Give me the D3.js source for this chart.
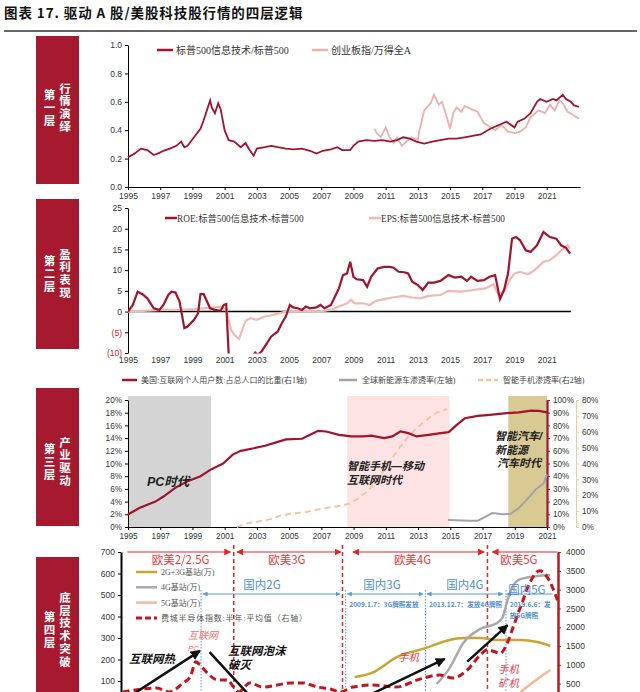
<!DOCTYPE html>
<html><head><meta charset="utf-8">
<script src="https://cdn.jsdelivr.net/npm/d3@7"></script>
<style>body{margin:0;background:#fff}svg{display:block}</style>
</head><body><svg id="c" width="640" height="692"></svg>
<script>
// ---------------- DATA ----------------
const title = "图表 17. 驱动 A 股/美股科技股行情的四层逻辑";
const layerNames = [["第一层","行情演绎"],["第二层","盈利表现"],["第三层","产业驱动"],["第四层","底层技术突破"]];
const yearTicks = [1995,1997,1999,2001,2003,2005,2007,2009,2011,2013,2015,2017,2019,2021];

// Panel 1: relative strength
const p1Labels = ["标普500信息技术/标普500","创业板指/万得全A"];
const p1Ticks = [0,0.2,0.4,0.6,0.8,1.0];
const p1Tech = [[1995.0,0.21],[1995.4,0.235],[1995.8,0.27],[1996.2,0.26],[1996.6,0.225],[1996.95,0.24],[1997.2,0.255],[1997.6,0.27],[1998.0,0.29],[1998.3,0.32],[1998.5,0.28],[1998.7,0.29],[1999.1,0.35],[1999.5,0.41],[1999.7,0.47],[2000.1,0.61],[2000.2,0.56],[2000.4,0.52],[2000.6,0.59],[2000.75,0.55],[2001.0,0.40],[2001.25,0.33],[2001.6,0.32],[2002.0,0.28],[2002.3,0.31],[2002.5,0.27],[2002.8,0.22],[2003.0,0.27],[2003.5,0.28],[2003.9,0.29],[2004.3,0.28],[2004.8,0.27],[2005.3,0.265],[2005.8,0.27],[2006.3,0.255],[2006.7,0.235],[2007.1,0.255],[2007.6,0.265],[2008.0,0.28],[2008.3,0.26],[2008.8,0.26],[2009.0,0.29],[2009.3,0.32],[2009.8,0.33],[2010.3,0.325],[2010.8,0.33],[2011.3,0.32],[2011.7,0.33],[2012.1,0.35],[2012.5,0.34],[2012.9,0.32],[2013.4,0.305],[2013.9,0.32],[2014.4,0.33],[2014.9,0.34],[2015.4,0.34],[2015.9,0.35],[2016.4,0.36],[2016.9,0.37],[2017.5,0.41],[2018.0,0.435],[2018.5,0.46],[2019.0,0.42],[2019.2,0.46],[2019.6,0.48],[2020.0,0.52],[2020.4,0.60],[2020.6,0.62],[2021.0,0.60],[2021.4,0.62],[2021.6,0.61],[2022.0,0.65],[2022.2,0.62],[2022.5,0.60],[2022.7,0.575],[2023.0,0.565]];
const p1Chinext = [[2010.3,0.41],[2010.45,0.38],[2010.7,0.35],[2011.0,0.42],[2011.25,0.35],[2011.5,0.31],[2011.7,0.35],[2012.0,0.29],[2012.4,0.33],[2012.6,0.35],[2013.0,0.33],[2013.1,0.40],[2013.4,0.54],[2013.8,0.59],[2014.0,0.65],[2014.3,0.58],[2014.5,0.60],[2014.8,0.49],[2015.0,0.41],[2015.2,0.52],[2015.4,0.56],[2015.7,0.53],[2015.9,0.57],[2016.3,0.55],[2016.7,0.53],[2017.1,0.45],[2017.5,0.42],[2017.8,0.40],[2018.2,0.435],[2018.6,0.39],[2019.0,0.38],[2019.35,0.39],[2019.7,0.42],[2020.0,0.49],[2020.5,0.54],[2020.9,0.52],[2021.2,0.58],[2021.5,0.54],[2021.8,0.61],[2022.0,0.59],[2022.3,0.53],[2022.6,0.51],[2023.0,0.48]];

// Panel 2: earnings
const p2Labels = ["ROE:标普500信息技术-标普500","EPS:标普500信息技术-标普500"];
const p2Ticks = [-10,-5,0,5,10,15,20,25];
const p2Roe = [[1995.0,0],[1995.3,1.6],[1995.6,4.8],[1995.9,4.2],[1996.2,3.2],[1996.6,0.8],[1996.95,0.4],[1997.2,1.6],[1997.5,4.0],[1997.7,4.8],[1997.95,4.6],[1998.2,2.4],[1998.5,-4.0],[1998.7,-3.6],[1999.1,-2.0],[1999.35,-0.4],[1999.5,4.2],[1999.7,4.2],[2000.1,0.8],[2000.4,0.4],[2000.75,0.2],[2000.95,1.6],[2001.1,1.8],[2001.3,-14],[2002.0,-18],[2002.8,-10.5],[2002.9,-9.9],[2003.05,-10.5],[2003.3,-9.6],[2003.7,-7.2],[2003.9,-6.0],[2004.3,-4.8],[2004.55,-2.8],[2004.8,-1.2],[2005.05,1.6],[2005.25,1.0],[2005.55,0.8],[2005.8,0.4],[2006.05,1.2],[2006.3,0.8],[2006.7,1.0],[2006.95,1.6],[2007.2,0.8],[2007.6,1.6],[2007.85,3.6],[2008.1,5.6],[2008.35,8.8],[2008.6,9.2],[2008.8,12.0],[2009.0,8.4],[2009.2,7.8],[2009.6,7.6],[2009.85,6.0],[2010.1,8.4],[2010.5,10.4],[2010.9,10.8],[2011.25,10.8],[2011.5,10.6],[2011.8,9.6],[2012.15,9.5],[2012.4,9.2],[2012.65,7.2],[2013.0,6.4],[2013.3,5.2],[2013.65,7.0],[2014.0,7.0],[2014.4,7.4],[2014.9,8.8],[2015.3,8.2],[2015.7,8.4],[2016.05,7.4],[2016.3,8.4],[2016.7,7.4],[2017.1,7.6],[2017.45,8.4],[2017.8,8.8],[2018.1,3.0],[2018.35,5.2],[2018.6,9.2],[2018.85,17.6],[2019.1,18.0],[2019.35,17.2],[2019.7,14.8],[2020.0,14.4],[2020.4,16.0],[2020.8,19.2],[2021.2,18.0],[2021.6,17.6],[2021.9,16.0],[2022.2,15.4],[2022.45,14.0]];
const p2Eps = [[1995.0,0],[1997.2,0.4],[1998.2,0.4],[1999.2,0.6],[1999.7,0.8],[2000.75,1.2],[2001.1,0.4],[2001.4,-4.4],[2001.6,-5.6],[2001.9,-6.6],[2002.3,-2.2],[2002.6,-1.6],[2003.0,-2.0],[2003.5,-1.2],[2004.0,-0.8],[2004.8,0],[2005.8,0.2],[2006.8,0],[2007.6,0.4],[2008.1,1.2],[2008.6,2.0],[2008.85,2.8],[2009.1,2.0],[2009.6,2.0],[2010.0,1.6],[2010.4,2.6],[2010.9,3.0],[2011.4,3.4],[2012.1,3.8],[2012.65,3.4],[2013.15,3.2],[2013.65,3.8],[2014.4,4.0],[2014.9,5.0],[2015.7,4.8],[2016.45,5.2],[2017.2,5.6],[2017.7,6.6],[2018.0,4.0],[2018.35,4.8],[2018.7,7.6],[2019.0,9.2],[2019.35,9.6],[2019.85,9.0],[2020.25,10.0],[2020.8,12.0],[2021.2,12.4],[2021.6,13.6],[2021.9,14.8],[2022.3,16.0],[2022.45,15.2]];

// Panel 3: industry drivers
const p3Labels = ["美国:互联网个人用户数:占总人口的比重(右1轴)","全球新能源车渗透率(左轴)","智能手机渗透率(右2轴)"];
const p3LeftTicks = [0,0.02,0.04,0.06,0.08,0.10,0.12,0.14,0.16,0.18,0.20];
const p3R1Ticks = [0,0.1,0.2,0.3,0.4,0.5,0.6,0.7,0.8,0.9,1.0];
const p3R2Ticks = [0,0.1,0.2,0.3,0.4,0.5,0.6,0.7,0.8];
const p3Eras = [{from:1995,to:2000.15,name:["PC时代"]},{from:2008.6,to:2014.95,name:["智能手机—移动","互联网时代"]},{from:2018.6,to:2021,name:["智能汽车/","新能源","汽车时代"]}];
const p3Internet = [[1995.0,0.099],[1995.7,0.15],[1996.7,0.20],[1997.2,0.24],[1997.95,0.31],[1998.7,0.36],[1999.5,0.40],[2000.1,0.45],[2000.9,0.50],[2001.5,0.57],[2002.0,0.60],[2002.8,0.62],[2003.5,0.64],[2004.3,0.67],[2004.8,0.69],[2005.8,0.695],[2006.3,0.726],[2006.8,0.757],[2007.3,0.752],[2008.1,0.726],[2008.85,0.713],[2009.6,0.713],[2010.1,0.72],[2010.9,0.70],[2011.4,0.713],[2011.9,0.752],[2012.4,0.739],[2012.9,0.713],[2013.65,0.726],[2014.4,0.739],[2014.9,0.747],[2015.4,0.804],[2015.9,0.856],[2016.7,0.875],[2017.45,0.883],[2018.5,0.896],[2019.25,0.903],[2020.0,0.916],[2020.5,0.914],[2021.0,0.903]];
const p3Nev = [[2014.85,0.011],[2016.2,0.010],[2016.7,0.010],[2017.1,0.015],[2017.6,0.022],[2018.25,0.020],[2018.75,0.021],[2019.25,0.030],[2019.75,0.043],[2020.3,0.059],[2020.8,0.069],[2021.0,0.083]];
const p3Phone = [[2001.75,0],[2002.3,0.021],[2003.0,0.033],[2003.8,0.048],[2004.55,0.075],[2005.3,0.086],[2006.05,0.094],[2006.8,0.11],[2007.6,0.125],[2008.35,0.136],[2008.85,0.152],[2009.35,0.184],[2009.85,0.225],[2010.35,0.278],[2010.85,0.35],[2011.4,0.434],[2011.9,0.507],[2012.4,0.57],[2012.9,0.622],[2013.4,0.664],[2013.9,0.706],[2014.4,0.73],[2014.8,0.743]];

// Panel 4: technology
const p4Labels = ["2G+3G基站(万)","4G基站(万)","5G基站(万)","费城半导体指数:半年:平均值（右轴）"];
const p4LeftTicks = [100,200,300,400,500,600,700];
const p4RightTicks = [500,1000,1500,2000,2500,3000,3500,4000];
const p4Base23 = [[2009.5,118],[2010.65,140],[2012.15,212],[2013.9,253],[2015.4,291],[2016.25,300],[2017.3,300],[2018.35,291],[2019.8,291],[2020.85,281],[2021.65,263]];
const p4Base4 = [[2014.6,86],[2015.4,160],[2016.25,277],[2017.3,342],[2018.35,370],[2018.7,398],[2019.0,477],[2019.3,537],[2019.8,574],[2020.85,588],[2021.65,593]];
const p4Base5 = [[2019.8,48],[2020.6,95],[2021.65,151]];
const p4Sox = [[1995.1,280],[1996.4,360],[1997.2,385],[1998.0,280],[1998.85,520],[1999.3,680],[1999.65,1080],[1999.9,1000],[2000.35,785],[2001.0,600],[2001.6,600],[2002.0,410],[2002.3,280],[2003.0,520],[2003.8,410],[2004.7,465],[2005.5,520],[2006.3,520],[2007.2,410],[2008.0,360],[2008.6,280],[2009.4,410],[2010.65,465],[2012.1,410],[2013.4,600],[2014.8,730],[2015.6,650],[2016.5,865],[2017.3,1260],[2017.75,1400],[2018.55,1310],[2019.0,1600],[2019.35,2010],[2019.9,2650],[2020.4,3200],[2021.0,3500],[2021.45,3340],[2022.1,2720]];
const westGens = [{name:"欧美2/2.5G",from:1995.4,to:2001.8,mid:1998.7,heads:"end"},{name:"欧美3G",from:2002.2,to:2008.65,mid:2005.3,heads:"both"},{name:"欧美4G",from:2009.4,to:2017.55,mid:2013.1,heads:"both"},{name:"欧美5G",from:2018.05,to:2022.1,mid:2019.7,heads:"start"}];
const westLines = [2002.0,2008.75,2017.75];
const chinaGens = [{name:"国内2G",from:2000.1,to:2008.6,mid:2003.75,note:[]},{name:"国内3G",from:2009.05,to:2013.75,mid:2011.2,note:["2009.1.7：3G牌照发放"]},{name:"国内4G",from:2014.0,to:2018.7,mid:2016.35,note:["2013.12.7：发放4G牌照"]},{name:"国内5G",from:2018.95,to:2021.8,mid:2020.2,note:["2019.6.6：发","放5G牌照"]}];
const chinaLines = [1999.97,2008.95,2013.9,2018.9];
// trend arrows: [start year, start value] -> [end year, end value] (left axis units)
const trendArrows = [[[1995.2,12],[1999.9,240]],[[2000.5,234],[2003.5,-10]],[[2008.9,-20],[2015.1,203]],[[2016.5,190],[2019.0,360]]];

// ---------------- DRAW ----------------
const svg = d3.select("#c");
const NUM = "'Liberation Sans Narrow','Liberation Sans',Arial,sans-serif";
const CJK = "'Liberation Serif','Noto Sans CJK SC',serif";
const SANS = "'Noto Sans CJK SC',sans-serif";
const ANN = "'Liberation Sans','Noto Sans CJK SC',sans-serif";
const DARKRED = "#a0142c", BOX = "#a6192e";
const defs = svg.append("defs");
function marker(id, color, size){
  defs.append("marker").attr("id",id).attr("viewBox","0 0 10 10").attr("refX",9).attr("refY",5)
    .attr("markerWidth",size).attr("markerHeight",size).attr("markerUnits","userSpaceOnUse")
    .attr("orient","auto-start-reverse").append("path").attr("d","M0,0L10,5L0,10z").attr("fill",color);
}
marker("mRed","#e02626",7); marker("mBlue","#5b9bd5",5); marker("mBlack","#111",10);

// title
svg.append("text").attr("x",4).attr("y",18).attr("font-family",SANS)
  .attr("font-weight","bold").attr("font-size",13.5).attr("letter-spacing",0.9).attr("fill","#111").text(title);
svg.append("line").attr("x1",4).attr("x2",637).attr("y1",31).attr("y2",31).attr("stroke","#333").attr("stroke-width",1.5);

// side boxes with vertical text
const boxes = [{y0:36,y1:184,c:108},{y0:199,y1:349,c:274},{y0:388,y1:526,c:462},{y0:557,y1:700,c:630}];
boxes.forEach((b,i)=>{
  svg.append("rect").attr("x",36).attr("y",b.y0).attr("width",43).attr("height",b.y1-b.y0).attr("fill",BOX);
  [[layerNames[i][0],49.5],[layerNames[i][1],65]].forEach(([s,x])=>{
    svg.append("text").attr("x",x).attr("y",b.c).attr("text-anchor","middle")
      .attr("writing-mode","tb").style("writing-mode","vertical-rl")
      .attr("letter-spacing",1.3).attr("font-family",SANS).attr("font-weight","bold")
      .attr("font-size",11.5).attr("fill","#fff").text(s);
  });
});

function styleAxis(g, color, fs){
  g.attr("font-family",NUM).attr("font-size",fs||8.5);
  g.selectAll("text").attr("fill","#333");
  g.select(".domain").attr("stroke",color||"#000");
  g.selectAll(".tick line").attr("stroke",color||"#000");
}
const lineGen = (x,y)=>d3.line().x(d=>x(d[0])).y(d=>y(d[1]));

// ---------- Panel 1 ----------
{
  const x = d3.scaleLinear().domain([1995,2023.07]).range([128,580]);
  const y = d3.scaleLinear().domain([0,1]).range([187,45]);
  styleAxis(svg.append("g").attr("transform","translate(128,0)")
    .call(d3.axisLeft(y).tickValues(p1Ticks).tickFormat(d3.format(".1f")).tickSize(3).tickSizeOuter(0)));
  styleAxis(svg.append("g").attr("transform","translate(0,187)")
    .call(d3.axisBottom(x).tickValues(yearTicks).tickFormat(d=>d).tickSize(3).tickSizeOuter(0)));
  svg.append("path").datum(p1Chinext).attr("d",lineGen(x,y)).attr("fill","none").attr("stroke","#ebb0ac").attr("stroke-width",1.8);
  svg.append("path").datum(p1Tech).attr("d",lineGen(x,y)).attr("fill","none").attr("stroke",DARKRED).attr("stroke-width",1.8);
  const lg = [[157,DARKRED,p1Labels[0]],[312,"#ebb0ac",p1Labels[1]]];
  lg.forEach(([lx,c,t])=>{
    svg.append("line").attr("x1",lx).attr("x2",lx+16).attr("y1",50).attr("y2",50).attr("stroke",c).attr("stroke-width",2.5);
    svg.append("text").attr("x",lx+19).attr("y",53.5).attr("font-family",CJK).attr("font-size",10).attr("fill","#333").text(t);
  });
}

// ---------- Panel 2 ----------
{
  const x = d3.scaleLinear().domain([1995,2023.07]).range([128,580]);
  const y = d3.scaleLinear().domain([-10,25]).range([353,208]);
  const ga = svg.append("g").attr("transform","translate(128,0)")
    .call(d3.axisLeft(y).tickValues(p2Ticks).tickFormat(d=>d<0?`(${-d})`:d).tickSize(3).tickSizeOuter(0));
  styleAxis(ga);
  ga.selectAll(".tick text").attr("fill",d=>d<0?"#c0282d":"#333");
  const gb = svg.append("g").attr("transform","translate(0,353)")
    .call(d3.axisBottom(x).tickValues(yearTicks).tickFormat(d=>d).tickSize(0).tickPadding(4));
  styleAxis(gb); gb.select(".domain").remove();
  defs.append("clipPath").attr("id","clip2").append("rect").attr("x",128).attr("y",200).attr("width",460).attr("height",153.5);
  svg.append("line").attr("x1",x(1995)).attr("x2",x(2022.5)).attr("y1",y(0)).attr("y2",y(0)).attr("stroke","#000").attr("stroke-width",1.5);
  svg.append("path").datum(p2Eps).attr("d",lineGen(x,y)).attr("fill","none").attr("stroke","#efb9b4").attr("stroke-width",2.2).attr("clip-path","url(#clip2)");
  svg.append("path").datum(p2Roe).attr("d",lineGen(x,y)).attr("fill","none").attr("stroke",DARKRED).attr("stroke-width",2.2).attr("clip-path","url(#clip2)");
  const lg = [[165,DARKRED,p2Labels[0]],[369,"#efb9b4",p2Labels[1]]];
  lg.forEach(([lx,c,t])=>{
    svg.append("line").attr("x1",lx).attr("x2",lx+12).attr("y1",218).attr("y2",218).attr("stroke",c).attr("stroke-width",2.5);
    svg.append("text").attr("x",lx+12).attr("y",221.5).attr("font-family",CJK).attr("font-size",9.3).attr("fill","#333").text(t);
  });
}

// ---------- Panel 3 ----------
{
  const x = d3.scaleLinear().domain([1995,2021]).range([128,547]);
  const yL = d3.scaleLinear().domain([0,0.2]).range([527,400]);
  const yR1 = d3.scaleLinear().domain([0,1]).range([527,400]);
  const yR2 = d3.scaleLinear().domain([0,0.8]).range([527,400]);
  const bandC = ["#d4d4d4","#fde3e3","#d9ca94"];
  p3Eras.forEach((e,i)=>svg.append("rect").attr("x",x(e.from)).attr("width",x(e.to)-x(e.from)).attr("y",396).attr("height",131).attr("fill",bandC[i]));
  styleAxis(svg.append("g").attr("transform","translate(128,0)")
    .call(d3.axisLeft(yL).tickValues(p3LeftTicks).tickFormat(d3.format(".0%")).tickSize(3).tickSizeOuter(0)),"#000",8.2);
  styleAxis(svg.append("g").attr("transform","translate(0,527)")
    .call(d3.axisBottom(x).tickValues(yearTicks).tickFormat(d=>d).tickSize(3).tickSizeOuter(0)),"#000",8.2);
  const r1 = svg.append("g").attr("transform","translate(547,0)")
    .call(d3.axisRight(yR1).tickValues(p3R1Ticks).tickFormat(d3.format(".0%")).tickSize(3).tickSizeOuter(0));
  styleAxis(r1,DARKRED,8.2); r1.select(".domain").attr("stroke-width",2.2);
  const r2 = svg.append("g").attr("transform","translate(576,0)")
    .call(d3.axisRight(yR2).tickValues(p3R2Ticks).tickFormat(d3.format(".0%")).tickSize(3).tickSizeOuter(0));
  styleAxis(r2,"#f2c7a6",8.2);
  svg.append("path").datum(p3Phone).attr("d",lineGen(x,yR2)).attr("fill","none").attr("stroke","#f5c3a0").attr("stroke-width",2).attr("stroke-dasharray","6,4");
  svg.append("path").datum(p3Nev).attr("d",lineGen(x,yL)).attr("fill","none").attr("stroke","#a3a3a3").attr("stroke-width",2);
  svg.append("path").datum(p3Internet).attr("d",lineGen(x,yR1)).attr("fill","none").attr("stroke",DARKRED).attr("stroke-width",2.2);
  const eraPos = [[147,486],[347,470],[495,440]];
  p3Eras.forEach((e,i)=>e.name.forEach((t,k)=>svg.append("text").attr("x",eraPos[i][0]+(i===2&&k===2?2:0)).attr("y",eraPos[i][1]+k*13.5)
    .attr("font-family",ANN).attr("font-style","italic").attr("font-weight","bold")
    .attr("font-size",i===0?12.5:11).attr("fill","#222").text(t)));
  const lg = [[122,137,DARKRED,null,141,p3Labels[0]],[339,357,"#a3a3a3",null,362,p3Labels[1]],[478,498,"#f5c3a0","5,3",503,p3Labels[2]]];
  lg.forEach(([a,b,c,da,tx,t])=>{
    svg.append("line").attr("x1",a).attr("x2",b).attr("y1",380).attr("y2",380).attr("stroke",c).attr("stroke-width",2.5).attr("stroke-dasharray",da);
    svg.append("text").attr("x",tx).attr("y",383).attr("font-family",CJK).attr("font-size",8).attr("fill","#444").text(t);
  });
}

// ---------- Panel 4 ----------
{
  const x = d3.scaleLinear().domain([1995,2022.1]).range([121,557.5]);
  const yL = d3.scaleLinear().domain([0,700]).range([702.5,552]);
  const yR = d3.scaleLinear().domain([0,4000]).range([702.5,552]);
  const la = svg.append("g").attr("transform","translate(121,0)")
    .call(d3.axisLeft(yL).tickValues(p4LeftTicks).tickSize(3).tickSizeOuter(0));
  styleAxis(la,"#000",8.5); la.select(".domain").attr("stroke-width",2);
  const ra = svg.append("g").attr("transform","translate(558,0)")
    .call(d3.axisRight(yR).tickValues(p4RightTicks).tickFormat(d3.format("d")).tickSize(3).tickSizeOuter(0).tickPadding(5));
  styleAxis(ra,"#c0161e",8.5); ra.select(".domain").attr("stroke-width",2.5);

  westLines.forEach(v=>svg.append("line").attr("x1",x(v)).attr("x2",x(v)).attr("y1",545).attr("y2",700)
    .attr("stroke","#e02626").attr("stroke-width",1.5).attr("stroke-dasharray","4,3"));
  chinaLines.forEach(v=>svg.append("line").attr("x1",x(v)).attr("x2",x(v)).attr("y1",590).attr("y2",700)
    .attr("stroke","#5b9bd5").attr("stroke-width",1).attr("stroke-dasharray","1.5,1.5"));

  svg.append("path").datum(p4Base23).attr("d",lineGen(x,yL).curve(d3.curveMonotoneX)).attr("fill","none").attr("stroke","#c8a430").attr("stroke-width",2.5);
  svg.append("path").datum(p4Base4).attr("d",lineGen(x,yL).curve(d3.curveMonotoneX)).attr("fill","none").attr("stroke","#a9a9a9").attr("stroke-width",2.5);
  svg.append("path").datum(p4Base5).attr("d",lineGen(x,yL).curve(d3.curveMonotoneX)).attr("fill","none").attr("stroke","#f4b89a").attr("stroke-width",2.5);
  svg.append("path").datum(p4Sox).attr("d",lineGen(x,yR).curve(d3.curveMonotoneX)).attr("fill","none").attr("stroke","#c0161e").attr("stroke-width",3).attr("stroke-dasharray","7,4");

  westGens.forEach(g=>{
    const l = svg.append("line").attr("x1",x(g.from)).attr("x2",x(g.to)).attr("y1",552).attr("y2",552).attr("stroke","#e02626").attr("stroke-width",1.2);
    if(g.heads!=="start") l.attr("marker-end","url(#mRed)");
    if(g.heads!=="end") l.attr("marker-start","url(#mRed)");
    svg.append("text").attr("x",x(g.mid)).attr("y",564).attr("text-anchor","middle").attr("font-family",SANS)
      .attr("font-size",11.5).attr("fill","#e8383d").text(g.name);
  });
  chinaGens.forEach((g,i)=>{
    const l = svg.append("line").attr("x1",x(g.from)).attr("x2",x(g.to)).attr("y1",594).attr("y2",594).attr("stroke","#5b9bd5").attr("stroke-width",1)
      .attr("marker-start","url(#mBlue)");
    if(i<3) l.attr("marker-end","url(#mBlue)");
    svg.append("text").attr("x",x(g.mid)).attr("y",i===3?594:589).attr("text-anchor","middle").attr("font-family",SANS)
      .attr("font-size",11.5).attr("fill","#4f8fcf").text(g.name);
    g.note.forEach((t,k)=>svg.append("text").attr("x",x(g.from)+(i===3?3:2)).attr("y",607+k*11).attr("font-family",SANS)
      .attr("font-weight","bold").attr("font-size",6.6).attr("fill","#4f8fcf").text(t));
  });

  const lgC = ["#c8a430","#a9a9a9","#f4b89a","#c0161e"];
  p4Labels.forEach((t,i)=>{
    const yy = 572 + i*15.3;
    svg.append("line").attr("x1",136).attr("x2",157).attr("y1",yy).attr("y2",yy).attr("stroke",lgC[i]).attr("stroke-width",i===3?3:2.5)
      .attr("stroke-dasharray",i===3?"6,3":null);
    svg.append("text").attr("x",161).attr("y",yy+3).attr("font-family",CJK).attr("font-size",8).attr("letter-spacing",i===3?0.8:0).attr("fill","#555").text(t);
  });

  const ann = [
    {t:"互联网",x:188,y:639,c:"#f07070",s:10},{t:"PC",x:188,y:651,c:"#f07070",s:8},
    {t:"互联网热",x:129,y:663,c:"#111",s:11.5,b:true},
    {t:"互联网泡沫",x:228,y:655,c:"#111",s:11.5,b:true},{t:"破灭",x:228,y:669,c:"#111",s:11.5,b:true},
    {t:"手机",x:398,y:661,c:"#e8383d",s:10.5},
    {t:"手机",x:498,y:673,c:"#e8383d",s:10.5},{t:"矿机",x:498,y:687,c:"#e8383d",s:10.5}
  ];
  ann.forEach(a=>svg.append("text").attr("x",a.x).attr("y",a.y).attr("font-family",ANN)
    .attr("font-style","italic").attr("font-weight",a.b?"bold":"normal").attr("font-size",a.s).attr("fill",a.c).text(a.t));

  trendArrows.forEach(([a,b])=>svg.append("line").attr("x1",x(a[0])).attr("y1",yL(a[1])).attr("x2",x(b[0])).attr("y2",yL(b[1]))
    .attr("stroke","#111").attr("stroke-width",2.5).attr("marker-end","url(#mBlack)"));
}
</script></body></html>
